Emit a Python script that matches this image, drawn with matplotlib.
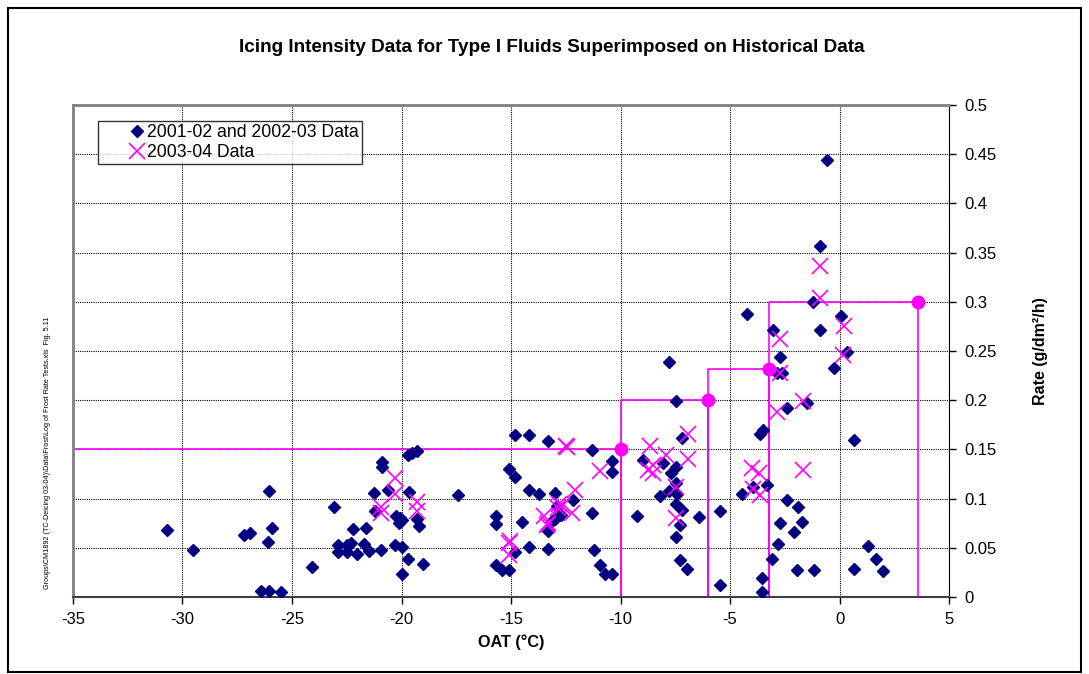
import matplotlib
matplotlib.use("Agg")
import matplotlib.pyplot as plt
from matplotlib.patches import Rectangle

plt.rcParams['font.family'] = ['Liberation Sans', 'DejaVu Sans']

# historical data (2001-02 and 2002-03)
hist_temp = [-30.7, -29.5, -27.2, -26.9, -26.05, -25.9, -26.1, -26.4, -26.05, -25.5,
             -24.1, -23.07, -22.2, -22.9, -22.5, -22.3, -22.9, -22.5, -22.05, -21.7,
             -21.5, -21.6, -21.25, -20.9, -20.9, -21.2, -20.95, -20.6, -20.3, -20.25,
             -20.07, -20.1, -20.0, -20.0, -20.0, -19.7, -19.65, -19.7, -19.5, -19.3,
             -19.3, -19.2, -19.0, -17.4, -15.7, -15.7, -15.7, -15.4, -15.1, -14.8,
             -14.2, -15.1, -14.8, -14.2, -14.5, -14.2, -13.7, -13.3, -11.3, -10.4,
             -10.4, -13.0, -12.15, -12.9, -12.7, -13.0, -13.15, -13.3, -13.3, -14.8,
             -11.3, -11.2, -10.95, -10.7, -10.4, -9.26, -7.77, -7.48, -7.2, -8.96,
             -8.05, -7.47, -7.7, -7.47, -7.77, -7.4, -8.2, -7.47, -7.18, -7.28,
             -6.4, -5.46, -7.48, -7.3, -6.95, -5.46, -4.47, -3.96, -3.63, -3.48,
             -0.58, -0.89, -1.2, -4.24, -3.02, -0.89, 0.05, -2.72, -2.87, -2.64,
             -0.25, 0.33, -2.41, -1.5, 0.68, -3.32, -2.41, -1.9, -2.72, -1.7,
             -2.1, -2.8, -3.07, -1.95, -1.15, 0.68, 1.32, 1.65, 1.97, -3.52,
             -3.52]
hist_rate = [0.068, 0.048, 0.063, 0.065, 0.108, 0.070, 0.056, 0.006, 0.006, 0.005,
             0.030, 0.091, 0.069, 0.053, 0.053, 0.055, 0.046, 0.046, 0.044, 0.054,
             0.047, 0.070, 0.106, 0.137, 0.132, 0.087, 0.048, 0.109, 0.053, 0.082,
             0.080, 0.075, 0.078, 0.051, 0.023, 0.039, 0.107, 0.144, 0.146, 0.148,
             0.079, 0.072, 0.034, 0.104, 0.082, 0.074, 0.033, 0.027, 0.027, 0.165,
             0.165, 0.130, 0.122, 0.109, 0.076, 0.051, 0.105, 0.159, 0.149, 0.138,
             0.127, 0.106, 0.099, 0.092, 0.083, 0.079, 0.077, 0.067, 0.049, 0.046,
             0.085, 0.048, 0.033, 0.023, 0.023, 0.082, 0.239, 0.199, 0.162, 0.139,
             0.136, 0.132, 0.126, 0.116, 0.108, 0.105, 0.103, 0.095, 0.088, 0.073,
             0.081, 0.087, 0.061, 0.038, 0.028, 0.012, 0.105, 0.112, 0.166, 0.170,
             0.444, 0.357, 0.300, 0.288, 0.271, 0.271, 0.286, 0.244, 0.228, 0.228,
             0.233, 0.249, 0.192, 0.197, 0.160, 0.114, 0.099, 0.091, 0.075, 0.076,
             0.066, 0.054, 0.039, 0.027, 0.027, 0.028, 0.052, 0.039, 0.026, 0.019,
             0.005]

# 2003-04 data
new_temp = [-20.3, -20.3, -20.95, -20.95, -19.3, -19.3, -15.1, -15.1, -12.45, -12.5,
            -10.95, -12.1, -12.2, -12.8, -12.85, -13.5, -13.35, -12.65, -8.65, -7.92,
            -8.53, -8.73, -8.53, -6.9, -6.9, -7.47, -7.47, -4.0, -3.66, -3.96,
            -3.63, -0.89, -0.89, -2.72, 0.22, 0.17, -2.72, -2.84, -1.65, -1.65,
            -15.05, -13.3]
new_rate = [0.121, 0.105, 0.091, 0.085, 0.097, 0.087, 0.055, 0.043, 0.152, 0.153,
            0.128, 0.109, 0.085, 0.095, 0.090, 0.082, 0.073, 0.092, 0.153, 0.144,
            0.134, 0.129, 0.126, 0.166, 0.140, 0.112, 0.080, 0.131, 0.126, 0.110,
            0.104, 0.336, 0.304, 0.262, 0.275, 0.246, 0.228, 0.188, 0.199, 0.129,
            0.057, 0.075]

# threshold steps
thr_temp = [-10, -6, -3.2, 3.6]
thr_rate = [0.15, 0.2, 0.232, 0.3]

x_ticks = [-35, -30, -25, -20, -15, -10, -5, 0, 5]
y_ticks = [0, 0.05, 0.1, 0.15, 0.2, 0.25, 0.3, 0.35, 0.4, 0.45, 0.5]
y_labels = ["0", "0.05", "0.1", "0.15", "0.2", "0.25", "0.3", "0.35", "0.4", "0.45", "0.5"]

fig = plt.figure(figsize=(10.89, 6.74), dpi=100)
ax = fig.add_axes([73/1089, 1-597/674, 876/1089, 492/674])

# outer frame
fig.patches.append(Rectangle((8/1089, 2/674), 1073/1089, 664/674, transform=fig.transFigure,
                             fill=False, edgecolor="black", linewidth=1.5))

# step line built from threshold points
step_x = [x_ticks[0]]
step_y = [thr_rate[0]]
for i in range(len(thr_temp)):
    step_x += [thr_temp[i], thr_temp[i]]
    step_y += [thr_rate[i], 0]
    if i+1 < len(thr_temp):
        step_x += [thr_temp[i]]
        step_y += [thr_rate[i+1]]
ax.plot(step_x, step_y, color="#FF00FF", linewidth=1.2, zorder=2)
ax.plot(thr_temp, thr_rate, "o", color="#FF00FF", markersize=9, zorder=4)

ax.plot(hist_temp, hist_rate, "D", color="#000080", markersize=6.3, linestyle="none",
        label="2001-02 and 2002-03 Data", zorder=3)
ax.plot(new_temp, new_rate, "x", color="#FF00FF", markersize=11, markeredgewidth=1.2,
        linestyle="none", label="2003-04 Data", zorder=5)

ax.set_xlim(-35, 5)
ax.set_ylim(0, 0.5)
ax.set_xticks(x_ticks)
ax.set_xticklabels([str(t) for t in x_ticks], fontsize=12)
ax.set_yticks(y_ticks)
ax.set_yticklabels(y_labels, fontsize=12)
ax.yaxis.tick_right()
ax.yaxis.set_label_position("right")
ax.tick_params(axis="both", direction="out", length=5, width=1, pad=6)
ax.grid(True, color="black", linestyle=(0, (1, 1)), linewidth=0.8)
for s in ["left", "top"]:
    ax.spines[s].set_color("#808080")
    ax.spines[s].set_linewidth(2)
ax.spines["bottom"].set_color("#404040")
ax.spines["bottom"].set_linewidth(1.5)
ax.spines["right"].set_color("black")

ax.set_xlabel("OAT (°C)", fontsize=11.7, fontweight="bold", labelpad=5)
ax.set_ylabel("Rate (g/dm²/h)", fontsize=11.5, fontweight="bold", labelpad=26)

fig.text(552/1089, 1-48/674, "Icing Intensity Data for Type I Fluids Superimposed on Historical Data",
         ha="center", va="center", fontsize=13.6, fontweight="bold")
fig.text(48/1089, 1-453/674,
         "Groups\\CM1892 (TC-Deicing 03-04)\\Data\\Frost\\Log of Frost Rate Tests.xls  Fig. 5.11",
         rotation=90, ha="center", va="center", fontsize=5.2)

leg = ax.legend(loc="upper left", bbox_to_anchor=((98-73)/876, (597-120.5)/492), fontsize=12.7,
                frameon=True, fancybox=False, edgecolor="black", handlelength=4.0,
                handletextpad=-1.45, borderpad=0.2, labelspacing=0.15, borderaxespad=0)
leg.get_frame().set_linewidth(1)

fig.savefig("out.png", dpi=100)
